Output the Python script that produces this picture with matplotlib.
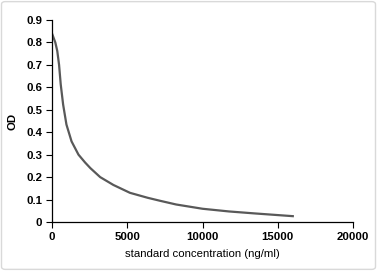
import matplotlib
matplotlib.use("Agg")
import matplotlib.pyplot as plt
from matplotlib.patches import FancyBboxPatch

# values
conc = [0, 220, 350, 470, 580, 740, 960, 1300, 1760, 2200, 2550, 3200, 4080,
        5180, 6350, 7150, 8250, 10000, 11760, 13510, 16000]
od = [0.84, 0.80, 0.762, 0.70, 0.613, 0.523, 0.434, 0.359, 0.30, 0.265, 0.24, 0.20, 0.165,
      0.13, 0.108, 0.095, 0.078, 0.059, 0.047, 0.038, 0.026]

x_ticks = [0, 5000, 10000, 15000, 20000]
y_ticks = [0, 0.1, 0.2, 0.3, 0.4, 0.5, 0.6, 0.7, 0.8, 0.9]
y_tick_labels = ['0', '0.1', '0.2', '0.3', '0.4', '0.5', '0.6', '0.7', '0.8', '0.9']

plt.rcParams['font.family'] = ['Liberation Sans', 'DejaVu Sans']

fig = plt.figure(figsize=(3.77, 2.71), dpi=100)
ax = fig.add_axes([52/377, 1-222/271, 301/377, 202/271])

ax.plot(conc, od, color='#595959', linewidth=1.6, solid_joinstyle='round')

ax.set_xlim(0, 20000)
ax.set_ylim(0, 0.9)
ax.set_xticks(x_ticks)
ax.set_xticklabels([str(t) for t in x_ticks], fontsize=8.2, fontweight='bold')
ax.set_yticks(y_ticks)
ax.set_yticklabels(y_tick_labels, fontsize=8.2, fontweight='bold')
ax.tick_params(direction='out', length=4, width=0.8, pad=3, colors='black')

for side in ['top', 'right']:
    ax.spines[side].set_visible(False)
for side in ['left', 'bottom']:
    ax.spines[side].set_linewidth(0.9)

ax.set_xlabel('standard concentration (ng/ml)', fontsize=8.2, labelpad=5)
ax.set_ylabel('OD', fontsize=8.2, fontweight='bold', labelpad=6)

# light border round the whole chart
border = FancyBboxPatch((0.004, 0.006), 0.992, 0.988, boxstyle='round,pad=0,rounding_size=0.01',
                        transform=fig.transFigure, facecolor='none', edgecolor='#d9d9d9', linewidth=1)
fig.patches.append(border)

fig.savefig('out.png', dpi=100)
